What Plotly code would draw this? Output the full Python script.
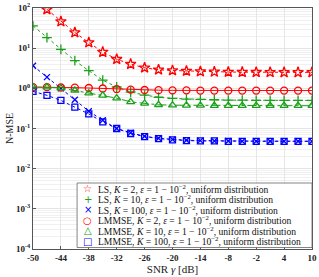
import plotly.graph_objects as go

snr_db = [-50, -47, -44, -41, -38, -35, -32, -29, -26, -23, -20, -17, -14, -11, -8, -5, -2, 1, 4, 7, 10]

ls_k2 = [180, 92, 46, 24.5, 13.8, 8.0, 5.3, 4.0, 3.25, 2.9, 2.78, 2.7, 2.62, 2.58, 2.55, 2.53, 2.52, 2.51, 2.5, 2.5, 2.5]
ls_k10 = [36, 18.3, 9.3, 4.9, 2.75, 1.6, 1.08, 0.81, 0.68, 0.60, 0.56, 0.54, 0.53, 0.52, 0.51, 0.51, 0.50, 0.50, 0.50, 0.50, 0.50]
ls_k100 = [3.65, 1.9, 1.0, 0.52, 0.27, 0.16, 0.10, 0.078, 0.064, 0.057, 0.053, 0.051, 0.050, 0.049, 0.049, 0.048, 0.048, 0.048, 0.048, 0.048, 0.048]
lmmse_k2 = [1.07, 1.07, 1.05, 1.04, 1.02, 0.99, 0.96, 0.93, 0.91, 0.90, 0.89, 0.89, 0.88, 0.88, 0.88, 0.88, 0.88, 0.88, 0.88, 0.88, 0.88]
lmmse_k10 = [1.07, 1.07, 1.02, 0.89, 0.76, 0.67, 0.57, 0.46, 0.42, 0.39, 0.38, 0.377, 0.375, 0.372, 0.37, 0.37, 0.37, 0.37, 0.37, 0.37, 0.37]
lmmse_k100 = [0.84, 0.67, 0.50, 0.34, 0.23, 0.146, 0.10, 0.075, 0.063, 0.056, 0.052, 0.050, 0.049, 0.049, 0.048, 0.048, 0.048, 0.048, 0.048, 0.048, 0.048]

x_ticks = [-50, -44, -38, -32, -26, -20, -14, -8, -2, 4, 10]
y_ticks = [1e-4, 1e-3, 1e-2, 1e-1, 1e0, 1e1, 1e2]
y_ticktext = ["10<sup>-4</sup>", "10<sup>-3</sup>", "10<sup>-2</sup>", "10<sup>-1</sup>",
              "10<sup>0</sup>", "10<sup>1</sup>", "10<sup>2</sup>"]

series = [
    ("LS, <i>K</i> = 2", ls_k2, "#ff0000", "star-open", 8, "dot", "☆"),
    ("LS, <i>K</i> = 10", ls_k10, "#1aa01a", "cross-thin-open", 7, "dot", "+"),
    ("LS, <i>K</i> = 100", ls_k100, "#0000ff", "x-thin-open", 6, "dot", "×"),
    ("LMMSE, <i>K</i> = 2", lmmse_k2, "#ff0000", "circle-open", 7, "solid", "○"),
    ("LMMSE, <i>K</i> = 10", lmmse_k10, "#1aa01a", "triangle-up-open", 7, "dashdot", "△"),
    ("LMMSE, <i>K</i> = 100", lmmse_k100, "#0000ff", "square-open", 6, "dot", "□"),
]
suffix = ", <i>ε</i> = 1 − 10<sup>−2</sup>, uniform distribution"

fig = go.Figure()
for name, ys, color, sym, size, dash, g in series:
    fig.add_trace(go.Scatter(
        x=snr_db, y=ys, mode="lines+markers", name=name + suffix,
        line=dict(color=color, width=1, dash=dash),
        marker=dict(symbol=sym, size=size, color=color, line=dict(color=color, width=1.3)),
        showlegend=False, cliponaxis=True,
    ))

# legend box (manual, to match compact row spacing)
plot_top_px, plot_bot_px = 8, 249
plot_h = plot_bot_px - plot_top_px
def py(px):
    return (plot_bot_px - px) / plot_h

fig.add_shape(type="rect", xref="paper", yref="paper",
              x0=0.158, x1=1.0, y0=py(247.5), y1=py(183),
              line=dict(color="#666", width=0.8), fillcolor="white", layer="above")
for i, (name, ys, color, sym, size, dash, g) in enumerate(series):
    yc = py(188.5 + i * 10.5)
    fig.add_annotation(xref="paper", yref="paper", x=0.197, y=yc, xanchor="center", yanchor="middle",
                       text=g, showarrow=False,
                       font=dict(family="DejaVu Sans", size=10, color=color))
    fig.add_annotation(xref="paper", yref="paper", x=0.227, y=yc, xanchor="left", yanchor="middle",
                       text=name + suffix, showarrow=False,
                       font=dict(family="Liberation Serif", size=9.6, color="#111"))

fig.update_layout(
    width=319, height=277,
    margin=dict(l=33, r=7, t=8, b=28, autoexpand=False),
    paper_bgcolor="white", plot_bgcolor="white",
    font=dict(family="Liberation Serif", size=9, color="#222"),
)
fig.update_xaxes(
    range=[-50, 10], tickvals=x_ticks, ticktext=[str(v) for v in x_ticks],
    showgrid=True, gridcolor="#e6e6e6", gridwidth=1,
    showline=True, linecolor="#555", linewidth=1, mirror=True,
    ticks="inside", ticklen=3, tickcolor="#555",
    tickfont=dict(family="Liberation Serif", size=9, color="#222", weight="bold"),
    title=dict(text="SNR <i>γ</i> [dB]", font=dict(size=11), standoff=0),
    zeroline=False, automargin=False,
)
fig.update_yaxes(
    type="log", range=[-4.0005, 2.0005], tickvals=y_ticks, ticktext=y_ticktext,
    showgrid=True, gridcolor="#e3e3e3", gridwidth=1,
    minor=dict(showgrid=True, gridcolor="#f0f0f0", ticks="", dtick="D1"),
    showline=True, linecolor="#555", linewidth=1, mirror=True,
    ticks="inside", ticklen=3, tickcolor="#555",
    tickfont=dict(family="Liberation Serif", size=9, color="#222", weight="bold"),
    ticklabeloverflow="allow",
    title=dict(text="N-MSE", font=dict(size=10), standoff=0),
    zeroline=False, automargin=False,
)

fig.write_html("out.html", config={"displayModeBar": False},
               post_script="document.body.style.margin='0';document.body.style.padding='0';")
